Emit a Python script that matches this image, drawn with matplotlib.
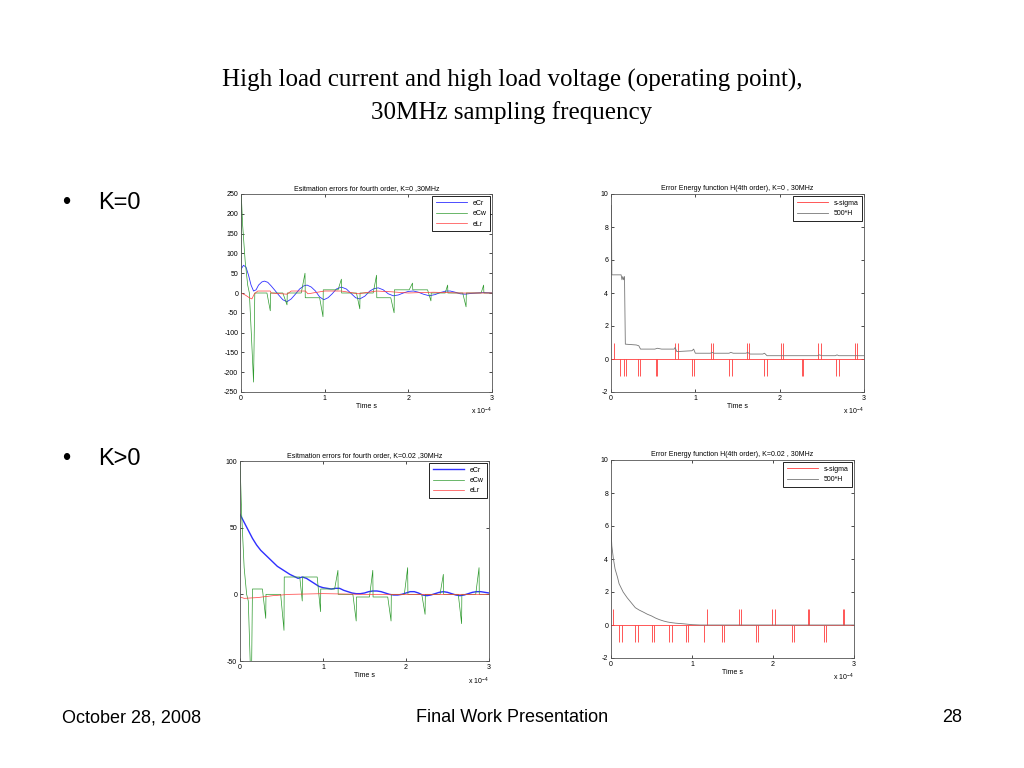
import matplotlib.pyplot as plt

plt.rcParams['font.family'] = ['Liberation Sans', 'DejaVu Sans']
plt.rcParams['mathtext.default'] = 'regular'
plt.rcParams['axes.unicode_minus'] = False

# time values are in units of 1e-4 s (axis shows "x 10^-4")

# ---- K=0 : estimation errors ----
t_cr0 = [0.00, 0.03, 0.06, 0.09, 0.12, 0.15, 0.18, 0.21, 0.25, 0.28, 0.32, 0.36, 0.40, 0.45,
         0.50, 0.55, 0.60, 0.65, 0.70, 0.75, 0.79, 0.84, 0.89, 0.94, 0.99, 1.04, 1.09, 1.14,
         1.20, 1.26, 1.32, 1.37, 1.42, 1.48, 1.54, 1.59, 1.64, 1.70, 1.76, 1.82, 1.88, 1.94,
         2.00, 2.06, 2.12, 2.18, 2.25, 2.32, 2.38, 2.45, 2.50, 2.56, 2.62, 2.68, 2.75, 2.82,
         2.90, 3.00]
e_cr0 = [60, 70, 65, 45, 20, 5, 8, 20, 28, 30, 27, 18, 8, -5,
         -17, -22, -15, -3, 10, 18, 20, 15, 5, -10, -17, -12, -2, 10,
         15, 10, -2, -12, -15, -8, 5, 11, 13, 8, -2, -7, -5, 0,
         4, 5, 2, -3, -7, -4, 1, 5, 5, 2, -2, -3, -1, 0,
         1, 0]

t_cw0 = [0.000, 0.004, 0.02, 0.05, 0.08, 0.10, 0.125, 0.150, 0.165, 0.31, 0.35, 0.353,
         0.50, 0.55, 0.553, 0.72, 0.765, 0.768, 0.94, 0.98, 0.983, 1.16, 1.20, 1.203,
         1.38, 1.42, 1.423, 1.58, 1.62, 1.623, 1.79, 1.83, 1.833, 2.01, 2.05, 2.053,
         2.23, 2.27, 2.273, 2.44, 2.47, 2.473, 2.65, 2.69, 2.693, 2.87, 2.90, 2.903, 3.00]
e_cw0 = [0, 245, 170, 80, 20, 0, -110, -225, 0, 0, -45, 0,
         0, -30, 0, 0, 50, -12, -12, -60, 8, 8, 35, 0,
         0, -40, 0, 0, 45, -12, -12, -50, 8, 8, 25, 8,
         8, -20, 0, 0, 20, 0, 0, -35, 0, 0, 20, 0, 0]

t_lr0 = [0.00, 0.05, 0.10, 0.13, 0.16, 0.20, 0.35, 0.36, 0.55, 0.60, 0.77, 0.80, 1.00,
         1.20, 1.40, 1.62, 1.80, 2.00, 2.30, 2.60, 3.00]
e_lr0 = [0, -5, -12, -15, -2, 5, 5, 0, -3, 5, 5, -2, 5,
         5, -2, 5, 3, 0, 2, 0, 0]

# ---- K=0 : error energy ----
t_h0 = [0.000, 0.005, 0.01, 0.12, 0.13, 0.14, 0.15, 0.16, 0.17, 0.30, 0.33, 0.35, 0.52,
        0.55, 0.60, 0.75, 0.76, 0.78, 0.96, 0.98, 1.00, 1.18, 1.20, 1.22, 1.40, 1.42,
        1.45, 1.60, 1.62, 1.65, 1.80, 1.82, 1.85, 2.45, 2.47, 2.50, 2.66, 2.68, 2.70, 3.00]
h0 = [9.3, 9.3, 5.1, 5.1, 4.8, 5.0, 4.8, 5.0, 0.9, 0.85, 0.8, 0.6, 0.6,
      0.65, 0.6, 0.6, 0.7, 0.45, 0.5, 0.6, 0.35, 0.35, 0.4, 0.35, 0.35, 0.4,
      0.35, 0.35, 0.4, 0.3, 0.3, 0.35, 0.2, 0.2, 0.25, 0.2, 0.2, 0.25, 0.2, 0.2]
t_sig0 = [0.03, 0.11, 0.15, 0.18, 0.32, 0.34, 0.53, 0.55, 0.76, 0.79, 0.96, 0.99, 1.19, 1.21,
          1.40, 1.43, 1.61, 1.64, 1.82, 1.85, 2.01, 2.04, 2.26, 2.28, 2.46, 2.49, 2.67, 2.70,
          2.89, 2.92]
sig0 = [1, -1, -1, -1, -1, -1, -1, -1, 1, 1, -1, -1, 1, 1,
        -1, -1, 1, 1, -1, -1, 1, 1, -1, -1, 1, 1, -1, -1,
        1, 1]

# ---- K=0.02 : estimation errors ----
t_cr1 = [0.00, 0.05, 0.10, 0.15, 0.20, 0.25, 0.30, 0.35, 0.40, 0.45, 0.50, 0.55, 0.60, 0.65,
         0.70, 0.75, 0.80, 0.85, 0.90, 0.95, 1.00, 1.05, 1.10, 1.15, 1.20, 1.25, 1.30, 1.35,
         1.40, 1.45, 1.50, 1.55, 1.60, 1.65, 1.70, 1.75, 1.80, 1.85, 1.90, 1.95, 2.00, 2.05,
         2.10, 2.15, 2.20, 2.25, 2.30, 2.35, 2.40, 2.45, 2.50, 2.55, 2.60, 2.65, 2.70, 2.75,
         2.80, 2.85, 2.90, 2.95, 3.00]
e_cr1 = [60, 54, 48, 42, 37, 33, 30, 27, 24, 21, 19, 17, 15, 13.5,
         12, 13, 12, 10, 8, 6, 5, 4.5, 4, 4.5, 4.5, 3, 2, 1,
         0.5, 0.5, 1, 2, 2.5, 2.5, 2, 1, 0, -0.5, -0.5, 0, 1, 2,
         2, 1, -0.5, -1, -0.5, 0.5, 1.5, 2, 1.5, 0.5, -0.5, -1, -0.5, 0.5,
         1.5, 2, 2, 1.5, 1]

t_cw1 = [0.00, 0.02, 0.05, 0.08, 0.10, 0.125, 0.14, 0.15, 0.27, 0.31, 0.313, 0.49, 0.53,
         0.533, 0.72, 0.75, 0.753, 0.93, 0.97, 0.973, 1.14, 1.18, 1.183, 1.36, 1.40, 1.403,
         1.56, 1.60, 1.603, 1.78, 1.82, 1.823, 1.98, 2.02, 2.023, 2.19, 2.23, 2.233, 2.41,
         2.45, 2.453, 2.63, 2.67, 2.673, 2.84, 2.88, 2.883, 3.00]
e_cw1 = [100, 60, 20, 0, -5, -55, -55, 4, 4, -18, 0, 0, -27,
         13, 13, -5, 13, 13, -13, 4, 4, 18, 0, 0, -20, -2,
         -2, 18, -2, -2, -20, 0, 0, 20, 0, 0, -15, 0, 0,
         15, 0, 0, -22, 0, 0, 20, 0, 0]

t_lr1 = [0.00, 0.05, 0.20, 0.40, 0.60, 1.00, 1.50, 2.00, 3.00]
e_lr1 = [-2, -3, -2.5, -1, 0, 0.5, 0, 0, 0]

# ---- K=0.02 : error energy ----
t_h1 = [0.00, 0.01, 0.03, 0.05, 0.08, 0.10, 0.15, 0.20, 0.25, 0.30, 0.35, 0.40, 0.45, 0.50,
        0.55, 0.60, 0.65, 0.70, 0.75, 0.80, 0.90, 1.00, 1.10, 3.00]
h1 = [5.8, 4.8, 4.0, 3.4, 2.9, 2.5, 2.0, 1.65, 1.35, 1.05, 0.9, 0.78, 0.65, 0.55,
      0.42, 0.32, 0.24, 0.18, 0.14, 0.11, 0.07, 0.02, 0.0, 0.0]
t_sig1 = [0.02, 0.10, 0.13, 0.30, 0.33, 0.50, 0.53, 0.72, 0.75, 0.92, 0.95, 1.15, 1.18,
          1.37, 1.40, 1.58, 1.61, 1.79, 1.82, 1.99, 2.02, 2.23, 2.26, 2.43, 2.45, 2.63,
          2.66, 2.86, 2.88]
sig1 = [1, -1, -1, -1, -1, -1, -1, -1, -1, -1, -1, -1, 1,
        -1, -1, 1, 1, -1, -1, 1, 1, -1, -1, 1, 1, -1,
        -1, 1, 1]

c_blue = '#3030ff'
c_green = '#2e9a2e'
c_red = '#ff3b3b'
c_gray = '#777777'


def style_axes(ax, yticks, title):
    ax.set_xlim(0, 3)
    ax.set_ylim(yticks[0], yticks[-1])
    ax.set_xticks([0, 1, 2, 3])
    ax.set_yticks(yticks)
    ax.tick_params(direction='in', length=2, width=0.5, labelsize=5, top=True, right=True, pad=2)
    for s in ax.spines.values():
        s.set_linewidth(0.6)
        s.set_color('#555555')
    ax.set_title(title, fontsize=5, pad=3)
    ax.set_xlabel('Time s', fontsize=5, labelpad=1)
    ax.text(1.0, -0.1, r'x 10$^{-4}$', transform=ax.transAxes, fontsize=5, ha='right', va='center')


def legend(ax):
    leg = ax.legend(loc='upper right', fontsize=5, handlelength=4.5, labelspacing=0.5,
                    borderaxespad=0.3, fancybox=False, framealpha=1, borderpad=0.5)
    leg.get_frame().set_edgecolor('black')
    leg.get_frame().set_linewidth(0.6)


fig = plt.figure(figsize=(10.24, 7.68), dpi=100)

# slide text
fig.text(0.5, 1 - 80 / 768, 'High load current and high load voltage (operating point),',
         family='Liberation Serif', fontsize=18, ha='center', va='center')
fig.text(0.5, 1 - 113 / 768, '30MHz sampling frequency',
         family='Liberation Serif', fontsize=18, ha='center', va='center')
fig.text(62 / 1024, 1 - 203 / 768, '•', fontsize=17, va='center')
fig.text(98 / 1024, 1 - 203 / 768, 'K=0', fontsize=17, va='center')
fig.text(62 / 1024, 1 - 459 / 768, '•', fontsize=17, va='center')
fig.text(98 / 1024, 1 - 459 / 768, 'K>0', fontsize=17, va='center')
fig.text(62 / 1024, 1 - 718 / 768, 'October 28, 2008', fontsize=13, va='center')
fig.text(512 / 1024, 1 - 718 / 768, 'Final Work Presentation', fontsize=13, va='center', ha='center')
fig.text(962 / 1024, 1 - 718 / 768, '28', fontsize=13, va='center', ha='right')

# top left
ax1 = fig.add_axes([241 / 1024, 1 - 392 / 768, 251 / 1024, 198 / 768])
ax1.plot(t_cr0, e_cr0, color=c_blue, lw=0.6, label='eCr')
ax1.plot(t_cw0, e_cw0, color=c_green, lw=0.5, label='eCw')
ax1.plot(t_lr0, e_lr0, color=c_red, lw=0.5, label='eLr')
style_axes(ax1, list(range(-250, 251, 50)), 'Esitmation errors for fourth order, K=0 ,30MHz')
legend(ax1)

# top right
ax2 = fig.add_axes([611 / 1024, 1 - 392 / 768, 253 / 1024, 198 / 768])
ax2.vlines(t_sig0, 0, sig0, color=c_red, lw=0.6)
ax2.plot([0, 3], [0, 0], color=c_red, lw=0.6, label='s-sigma')
ax2.plot(t_h0, h0, color=c_gray, lw=0.6, label='500*H')
style_axes(ax2, [-2, 0, 2, 4, 6, 8, 10], 'Error Energy function H(4th order), K=0 , 30MHz')
legend(ax2)

# bottom left
ax3 = fig.add_axes([240 / 1024, 1 - 661 / 768, 249 / 1024, 200 / 768])
ax3.plot(t_cr1, e_cr1, color=c_blue, lw=1.0, label='eCr')
ax3.plot(t_cw1, e_cw1, color=c_green, lw=0.5, label='eCw')
ax3.plot(t_lr1, e_lr1, color=c_red, lw=0.5, label='eLr')
style_axes(ax3, [-50, 0, 50, 100], 'Esitmation errors for fourth order, K=0.02 ,30MHz')
legend(ax3)

# bottom right
ax4 = fig.add_axes([611 / 1024, 1 - 658 / 768, 243 / 1024, 198 / 768])
ax4.vlines(t_sig1, 0, sig1, color=c_red, lw=0.6)
ax4.plot([0, 3], [0, 0], color=c_red, lw=0.6, label='s-sigma')
ax4.plot(t_h1, h1, color=c_gray, lw=0.6, label='500*H')
style_axes(ax4, [-2, 0, 2, 4, 6, 8, 10], 'Error Energy function H(4th order), K=0.02 , 30MHz')
legend(ax4)

fig.savefig('out.png', dpi=100)
